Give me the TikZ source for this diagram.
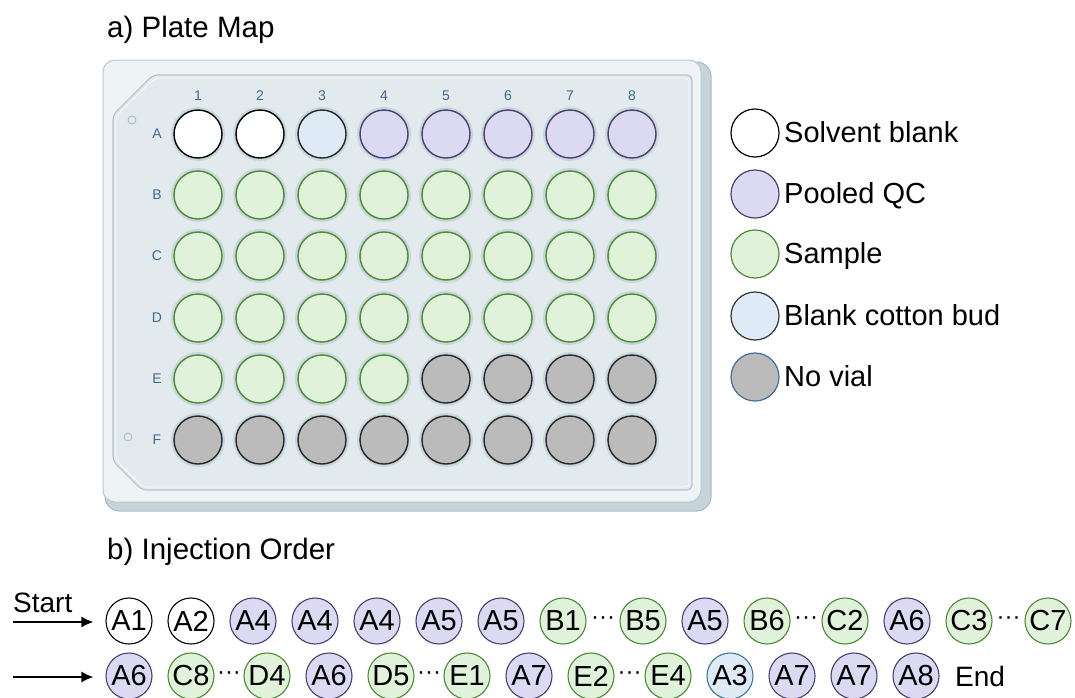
\documentclass[tikz,border=0pt]{standalone}
\usepackage{fontspec}
\setmainfont{Liberation Sans}
\usetikzlibrary{arrows.meta}
\definecolor{platebody}{HTML}{EEF3F5}
\definecolor{plateshadow}{HTML}{C6D4DA}
\definecolor{plateedge}{HTML}{A9BCC4}
\definecolor{platepanel}{HTML}{E3EAED}
\definecolor{halo}{HTML}{C9D8DE}
\definecolor{labelblue}{HTML}{40698A}
\definecolor{sfill}{HTML}{E0F2DA}
\definecolor{sline}{HTML}{4E8A34}
\definecolor{qfill}{HTML}{DCDAF2}
\definecolor{qline}{HTML}{4A3F6E}
\definecolor{cfill}{HTML}{DEEBF7}
\definecolor{cline}{HTML}{3B7A92}
\definecolor{nfill}{HTML}{BBBBBB}
\definecolor{nline}{HTML}{3F6E99}
\tikzset{
  wellW/.style={fill=white,draw=black},
  wellC/.style={fill=cfill,draw=black!85},
  wellQ/.style={fill=qfill,draw=qline},
  wellS/.style={fill=sfill,draw=sline},
  wellN/.style={fill=nfill,draw=black!85},
  inj/.style={circle,minimum size=46pt,inner sep=0pt,line width=1.1pt,
    font=\fontsize{29}{32}\selectfont},
  legtxt/.style={anchor=base west,inner sep=0pt,font=\fontsize{29}{32}\selectfont},
  title/.style={anchor=base west,inner sep=0pt,font=\fontsize{29.5}{32}\selectfont},
  plab/.style={text=labelblue,font=\fontsize{14}{16}\selectfont},
  dotsnode/.style={font=\fontsize{24}{30}\selectfont,inner sep=0pt},
  arr/.style={line width=1.6pt,-{Latex[length=12pt,width=11pt]}},
}
\newcommand{\mywell}[4]{%
  \fill[halo] ({#1},{#2}) circle[radius=27pt];
  \draw[#3,line width=1.4pt] ({#1},{#2}) circle[radius=24pt];
  \coordinate (well#4) at ({#1},{#2});}
\begin{document}
\begin{tikzpicture}[x=1pt,y=-1pt]
\useasboundingbox (0,0) rectangle (1075,697);
% titles
\node[title] (ta) at (107,37) {a) Plate Map};
\node[title] (tb) at (107,559) {b) Injection Order};
% plate
\draw[fill=plateshadow,draw=plateedge,line width=1pt,rounded corners=14pt] (105,62) rectangle (711,511);
\draw[fill=platebody,draw=plateedge!80,line width=1pt,rounded corners=12pt] (103,60) rectangle (701,502);
\draw[fill=platepanel,draw=plateedge!85,line width=1.2pt,rounded corners=5pt]
  (153,75) -- (692,75) -- (692,490) -- (142,490) -- (113,461) -- (113,115) -- cycle;
\draw[draw=white!70!platepanel,line width=0.8pt,rounded corners=4pt]
  (155,78) -- (689,78) -- (689,487) -- (143,487) -- (116,460) -- (116,116) -- cycle;
\draw[draw=plateedge,line width=0.9pt] (132,120) circle[radius=4pt];
\draw[draw=plateedge,line width=0.9pt] (128,437) circle[radius=4pt];
% labels
\foreach \c in {1,...,8}{
  \node[plab] (col\c) at ({198+62*(\c-1)},96) {\c};
}
\foreach \r/\yy in {A/134,B/195,C/256,D/318,E/379,F/440}{
  \node[plab] (row\r) at (157,\yy) {\r};
}
% wells
\foreach \c/\s in {1/wellW,2/wellW,3/wellC,4/wellQ,5/wellQ,6/wellQ,7/wellQ,8/wellQ}{
  \mywell{198+62*(\c-1)}{134}{\s}{A\c}
}
\foreach \r/\yy in {B/195,C/256,D/318}{
  \foreach \c in {1,...,8}{
    \mywell{198+62*(\c-1)}{\yy}{wellS}{\r\c}
  }
}
\foreach \c/\s in {1/wellS,2/wellS,3/wellS,4/wellS,5/wellN,6/wellN,7/wellN,8/wellN}{
  \mywell{198+62*(\c-1)}{379}{\s}{E\c}
}
\foreach \c in {1,...,8}{
  \mywell{198+62*(\c-1)}{440}{wellN}{F\c}
}
% legend
\draw[wellW,line width=1.2pt] (755,133) circle[radius=24pt];
\node[legtxt] (l1) at (784,142) {Solvent blank};
\draw[wellQ,line width=1.2pt] (755,194) circle[radius=24pt];
\node[legtxt] (l2) at (784,203) {Pooled QC};
\draw[wellS,line width=1.2pt] (755,254) circle[radius=24pt];
\node[legtxt] (l3) at (784,263) {Sample};
\draw[fill=cfill,draw=black!80,line width=1.2pt] (755,316) circle[radius=24pt];
\node[legtxt] (l4) at (784,325) {Blank cotton bud};
\draw[fill=nfill,draw=nline,line width=1.2pt] (755,377) circle[radius=24pt];
\node[legtxt] (l5) at (784,386) {No vial};
% injection order row 1
\foreach \n/\x/\s/\t in {1/129/wellW/A1,2/191/wellW/A2,3/253/wellQ/A4,4/315/wellQ/A4,5/377/wellQ/A4,
  6/439/wellQ/A5,7/501/wellQ/A5,8/563/wellS/B1,9/643/wellS/B5,10/705/wellQ/A5,11/767/wellS/B6,
  12/845/wellS/C2,13/907/wellQ/A6,14/969/wellS/C3,15/1048/wellS/C7}{
  \node[inj,\s] (a\n) at (\x,621) {\t};
}
\foreach \n/\x/\s/\t in {1/129/wellQ/A6,2/191/wellS/C8,3/267/wellS/D4,4/329/wellQ/A6,5/391/wellS/D5,
  6/467/wellS/E1,7/529/wellQ/A7,8/591/wellS/E2,9/668/wellS/E4,11/792/wellQ/A7,
  12/854/wellQ/A7,13/916/wellQ/A8}{
  \node[inj,\s] (b\n) at (\x,676) {\t};
}
\node[inj,draw=cline,fill=cfill] (b10) at (730,676) {A3};
\node[legtxt,font=\fontsize{28}{30}\selectfont] (endt) at (955,686) {End};
% dots
\path (a8) -- node[dotsnode] {···} (a9);
\path (a11) -- node[dotsnode] {···} (a12);
\path (a14) -- node[dotsnode] {···} (a15);
\path (b2) -- node[dotsnode] {···} (b3);
\path (b5) -- node[dotsnode] {···} (b6);
\path (b8) -- node[dotsnode] {···} (b9);
% start arrows
\node[anchor=base west,font=\fontsize{28}{30}\selectfont,inner sep=0pt] (start) at (13,612) {Start};
\coordinate (s1) at (13,622);
\coordinate (s2) at (13,677);
\draw[arr,shorten >=12pt] (s1) -- (s1 -| a1.west);
\draw[arr,shorten >=12pt] (s2) -- (s2 -| b1.west);
\end{tikzpicture}
\end{document}
